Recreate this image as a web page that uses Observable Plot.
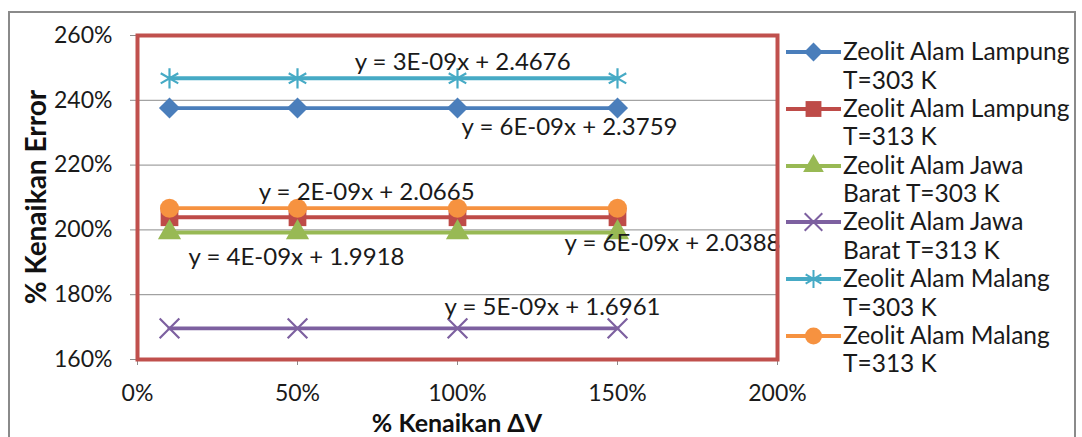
<!DOCTYPE html>
<html><head><meta charset="utf-8">
<script src="https://cdn.jsdelivr.net/npm/d3@7"></script>
<script src="https://cdn.jsdelivr.net/npm/@observablehq/plot@0.6"></script>
<style>
body{margin:0;background:#fff;font-family:Lato,"Open Sans",sans-serif}
#wrap{position:relative;width:1082px;height:437px;overflow:hidden;background:#fff}
#frame{position:absolute;left:8px;top:11px;width:1068px;height:470px;border:2px solid #8a8a8a;box-sizing:border-box}
#chart{position:absolute;left:0;top:0}
#legend{position:absolute;left:785px;top:37px}
.item{display:flex;align-items:flex-start;height:56.8px}
.item svg{flex:none;width:58px;height:29px}
.item span{font-size:24.5px;line-height:28.5px;width:235px;color:#1a1a1a}
.title{position:absolute;font-weight:bold;font-size:25px;color:#111;white-space:nowrap;line-height:1}
#xtitle{left:457px;top:421.5px;transform:translate(-50%,-50%)}
#ytitle{left:35px;top:197px;font-size:28px;transform:translate(-50%,-50%) rotate(-90deg)}
</style></head>
<body><div id="wrap"><div id="frame"></div><div id="chart"></div><div id="legend"></div>
<div class="title" id="xtitle"></div><div class="title" id="ytitle"></div></div>
<script>
// X categories (% Kenaikan ΔV)
const xValues = [0.1, 0.5, 1.0, 1.5];
// Series names
const seriesNames = [
  "Zeolit Alam Lampung T=303 K",
  "Zeolit Alam Lampung T=313 K",
  "Zeolit Alam Jawa Barat T=303 K",
  "Zeolit Alam Jawa Barat T=313 K",
  "Zeolit Alam Malang T=303 K",
  "Zeolit Alam Malang T=313 K"
];
// Series values (% Kenaikan Error, as fraction)
const lampung303 = [2.376, 2.376, 2.376, 2.376];
const lampung313 = [2.039, 2.039, 2.039, 2.039];
const jawa303    = [1.992, 1.992, 1.992, 1.992];
const jawa313    = [1.696, 1.696, 1.696, 1.696];
const malang303  = [2.468, 2.468, 2.468, 2.468];
const malang313  = [2.067, 2.067, 2.067, 2.067];
const seriesValues = [lampung303, lampung313, jawa303, jawa313, malang303, malang313];
const colors = ["#4a7ebb", "#be4b48", "#98b954", "#7d60a0", "#46aac5", "#f69240"];
const symbols = ["diamond2", "square", "triangle", "times", "asterisk", "circle"];
const filledSymbol = [true, true, true, false, false, true];
const symbolR = [9.5, 10, 8.6, 9, 9.6, 9.5];
// Tick labels and axis titles
const xTicks = [0, 0.5, 1.0, 1.5, 2.0];
const yTicks = [1.6, 1.8, 2.0, 2.2, 2.4, 2.6];
const xTitle = "% Kenaikan ΔV";
const yTitle = "% Kenaikan Error";
// Trendline equation labels and their positions (data units)
const eqLabels = ["y = 6E-09x + 2.3759", "y = 6E-09x + 2.0388", "y = 4E-09x + 1.9918", "y = 5E-09x + 1.6961", "y = 3E-09x + 2.4676", "y = 2E-09x + 2.0665"];
const eqX = [1.35, 1.672, 0.497, 1.297, 1.016, 0.716];
const eqY = [2.316, 1.958, 1.915, 1.760, 2.517, 2.115];

const data = seriesNames.flatMap((s, i) => xValues.map((x, j) => ({series: s, idx: i, x, y: seriesValues[i][j]})));
const eqData = eqLabels.map((t, i) => ({text: t, x: eqX[i], y: eqY[i]}));
const pct = d => Math.round(d * 100) + "%";
const FONT = 23;

const chart = Plot.plot({
  width: 1082, height: 437,
  marginLeft: 137, marginRight: 305, marginTop: 35, marginBottom: 78,
  style: {fontFamily: "Lato, 'Open Sans', sans-serif", fontSize: FONT + "px", color: "#1a1a1a", background: "transparent"},
  x: {domain: [0, 2]},
  y: {domain: [1.6, 2.6]},
  color: {domain: seriesNames, range: colors},
  marks: [
    Plot.ruleY(yTicks, {stroke: "#8c8c8c", strokeWidth: 1}),
    Plot.axisX({ticks: xTicks, tickFormat: pct, tickSize: 6, tickPadding: 19, stroke: "#8c8c8c", fontSize: FONT, label: null}),
    Plot.axisY({ticks: yTicks, tickFormat: pct, tickSize: 7, tickPadding: 18, stroke: "#8c8c8c", fontSize: FONT, label: null}),
    Plot.line(data, {x: "x", y: "y", z: "series", stroke: "series", strokeWidth: 3.8}),
    ...seriesNames.map((s, i) => Plot.dot(data.filter(d => d.idx === i), {
      x: "x", y: "y", symbol: () => symbols[i], r: symbolR[i],
      fill: filledSymbol[i] ? colors[i] : "none",
      stroke: colors[i], strokeWidth: filledSymbol[i] ? 0 : 2.2
    })),
    Plot.text(eqData, {x: "x", y: "y", text: "text", fontSize: 24, fill: "#1a1a1a"}),
    Plot.frame({stroke: "#c0504d", strokeWidth: 4})
  ]
});
document.getElementById("chart").appendChild(chart);
document.getElementById("xtitle").textContent = xTitle;
document.getElementById("ytitle").textContent = yTitle;

// Legend
const legend = d3.select("#legend");
const symMap = {diamond2: d3.symbolDiamond2, square: d3.symbolSquare, triangle: d3.symbolTriangle,
  times: d3.symbolTimes, asterisk: d3.symbolAsterisk, circle: d3.symbolCircle};
seriesNames.forEach((s, i) => {
  const item = legend.append("div").attr("class", "item");
  const svg = item.append("svg");
  svg.append("line").attr("x1", 1).attr("x2", 56).attr("y1", 15).attr("y2", 15)
    .attr("stroke", colors[i]).attr("stroke-width", 3.8);
  svg.append("path").attr("transform", "translate(28.5,15)")
    .attr("d", d3.symbol(symMap[symbols[i]], Math.PI * symbolR[i] * symbolR[i] * 0.8)())
    .attr("fill", filledSymbol[i] ? colors[i] : "none")
    .attr("stroke", filledSymbol[i] ? "none" : colors[i]).attr("stroke-width", 2);
  item.append("span").text(s);
});
</script>
</body></html>
